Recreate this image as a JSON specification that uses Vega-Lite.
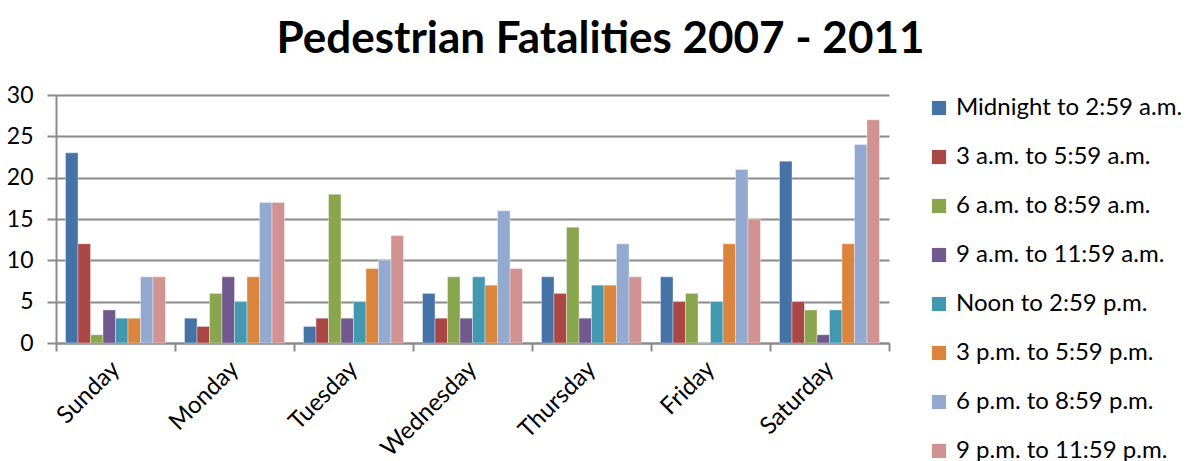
{
  "$schema": "https://vega.github.io/schema/vega-lite/v6.json",
  "autosize": "none",
  "width": 833,
  "height": 248,
  "padding": {"left": 56, "top": 95, "right": 311, "bottom": 118},
  "background": "white",
  "title": {
    "text": "Pedestrian Fatalities 2007 - 2011",
    "font": "Lato",
    "fontSize": 44,
    "fontWeight": "bold",
    "color": "black",
    "anchor": "middle",
    "dx": 128,
    "offset": 22
  },
  "data": {
    "values": [
      {"day": "Sunday", "slot": "Midnight to 2:59 a.m.", "count": 23},
      {"day": "Sunday", "slot": "3 a.m. to 5:59 a.m.", "count": 12},
      {"day": "Sunday", "slot": "6 a.m. to 8:59 a.m.", "count": 1},
      {"day": "Sunday", "slot": "9 a.m. to 11:59 a.m.", "count": 4},
      {"day": "Sunday", "slot": "Noon to 2:59 p.m.", "count": 3},
      {"day": "Sunday", "slot": "3 p.m. to 5:59 p.m.", "count": 3},
      {"day": "Sunday", "slot": "6 p.m. to 8:59 p.m.", "count": 8},
      {"day": "Sunday", "slot": "9 p.m. to 11:59 p.m.", "count": 8},
      {"day": "Monday", "slot": "Midnight to 2:59 a.m.", "count": 3},
      {"day": "Monday", "slot": "3 a.m. to 5:59 a.m.", "count": 2},
      {"day": "Monday", "slot": "6 a.m. to 8:59 a.m.", "count": 6},
      {"day": "Monday", "slot": "9 a.m. to 11:59 a.m.", "count": 8},
      {"day": "Monday", "slot": "Noon to 2:59 p.m.", "count": 5},
      {"day": "Monday", "slot": "3 p.m. to 5:59 p.m.", "count": 8},
      {"day": "Monday", "slot": "6 p.m. to 8:59 p.m.", "count": 17},
      {"day": "Monday", "slot": "9 p.m. to 11:59 p.m.", "count": 17},
      {"day": "Tuesday", "slot": "Midnight to 2:59 a.m.", "count": 2},
      {"day": "Tuesday", "slot": "3 a.m. to 5:59 a.m.", "count": 3},
      {"day": "Tuesday", "slot": "6 a.m. to 8:59 a.m.", "count": 18},
      {"day": "Tuesday", "slot": "9 a.m. to 11:59 a.m.", "count": 3},
      {"day": "Tuesday", "slot": "Noon to 2:59 p.m.", "count": 5},
      {"day": "Tuesday", "slot": "3 p.m. to 5:59 p.m.", "count": 9},
      {"day": "Tuesday", "slot": "6 p.m. to 8:59 p.m.", "count": 10},
      {"day": "Tuesday", "slot": "9 p.m. to 11:59 p.m.", "count": 13},
      {"day": "Wednesday", "slot": "Midnight to 2:59 a.m.", "count": 6},
      {"day": "Wednesday", "slot": "3 a.m. to 5:59 a.m.", "count": 3},
      {"day": "Wednesday", "slot": "6 a.m. to 8:59 a.m.", "count": 8},
      {"day": "Wednesday", "slot": "9 a.m. to 11:59 a.m.", "count": 3},
      {"day": "Wednesday", "slot": "Noon to 2:59 p.m.", "count": 8},
      {"day": "Wednesday", "slot": "3 p.m. to 5:59 p.m.", "count": 7},
      {"day": "Wednesday", "slot": "6 p.m. to 8:59 p.m.", "count": 16},
      {"day": "Wednesday", "slot": "9 p.m. to 11:59 p.m.", "count": 9},
      {"day": "Thursday", "slot": "Midnight to 2:59 a.m.", "count": 8},
      {"day": "Thursday", "slot": "3 a.m. to 5:59 a.m.", "count": 6},
      {"day": "Thursday", "slot": "6 a.m. to 8:59 a.m.", "count": 14},
      {"day": "Thursday", "slot": "9 a.m. to 11:59 a.m.", "count": 3},
      {"day": "Thursday", "slot": "Noon to 2:59 p.m.", "count": 7},
      {"day": "Thursday", "slot": "3 p.m. to 5:59 p.m.", "count": 7},
      {"day": "Thursday", "slot": "6 p.m. to 8:59 p.m.", "count": 12},
      {"day": "Thursday", "slot": "9 p.m. to 11:59 p.m.", "count": 8},
      {"day": "Friday", "slot": "Midnight to 2:59 a.m.", "count": 8},
      {"day": "Friday", "slot": "3 a.m. to 5:59 a.m.", "count": 5},
      {"day": "Friday", "slot": "6 a.m. to 8:59 a.m.", "count": 6},
      {"day": "Friday", "slot": "9 a.m. to 11:59 a.m.", "count": 0},
      {"day": "Friday", "slot": "Noon to 2:59 p.m.", "count": 5},
      {"day": "Friday", "slot": "3 p.m. to 5:59 p.m.", "count": 12},
      {"day": "Friday", "slot": "6 p.m. to 8:59 p.m.", "count": 21},
      {"day": "Friday", "slot": "9 p.m. to 11:59 p.m.", "count": 15},
      {"day": "Saturday", "slot": "Midnight to 2:59 a.m.", "count": 22},
      {"day": "Saturday", "slot": "3 a.m. to 5:59 a.m.", "count": 5},
      {"day": "Saturday", "slot": "6 a.m. to 8:59 a.m.", "count": 4},
      {"day": "Saturday", "slot": "9 a.m. to 11:59 a.m.", "count": 1},
      {"day": "Saturday", "slot": "Noon to 2:59 p.m.", "count": 4},
      {"day": "Saturday", "slot": "3 p.m. to 5:59 p.m.", "count": 12},
      {"day": "Saturday", "slot": "6 p.m. to 8:59 p.m.", "count": 24},
      {"day": "Saturday", "slot": "9 p.m. to 11:59 p.m.", "count": 27}
    ]
  },
  "mark": {"type": "bar", "stroke": "white", "strokeWidth": 0.6, "strokeOpacity": 0.6},
  "encoding": {
    "x": {
      "field": "day",
      "type": "nominal",
      "sort": ["Sunday", "Monday", "Tuesday", "Wednesday", "Thursday", "Friday", "Saturday"],
      "scale": {"paddingInner": 0, "paddingOuter": 0},
      "axis": {
        "title": null,
        "labelAngle": -45,
        "labelAlign": "right",
        "labelBaseline": "middle",
        "labelFont": "Lato",
        "labelFontSize": 24,
        "labelColor": "black",
        "labelPadding": 14,
        "tickBand": "extent",
        "tickSize": 8,
        "tickWidth": 2,
        "tickColor": "#8a8a8a",
        "domainColor": "#8a8a8a",
        "domainWidth": 2,
        "grid": false
      }
    },
    "xOffset": {
      "field": "slot",
      "type": "nominal",
      "sort": ["Midnight to 2:59 a.m.", "3 a.m. to 5:59 a.m.", "6 a.m. to 8:59 a.m.", "9 a.m. to 11:59 a.m.", "Noon to 2:59 p.m.", "3 p.m. to 5:59 p.m.", "6 p.m. to 8:59 p.m.", "9 p.m. to 11:59 p.m."],
      "scale": {"paddingInner": 0, "paddingOuter": 0.76}
    },
    "y": {
      "field": "count",
      "type": "quantitative",
      "scale": {"domain": [0, 30]},
      "axis": {
        "title": null,
        "values": [0, 5, 10, 15, 20, 25, 30],
        "labelFont": "Lato",
        "labelFontSize": 23,
        "labelColor": "black",
        "labelPadding": 14,
        "tickSize": 9,
        "tickWidth": 2,
        "tickColor": "#8a8a8a",
        "domainColor": "#8a8a8a",
        "domainWidth": 2,
        "gridColor": "#8a8a8a",
        "gridWidth": 2
      }
    },
    "color": {
      "field": "slot",
      "type": "nominal",
      "sort": ["Midnight to 2:59 a.m.", "3 a.m. to 5:59 a.m.", "6 a.m. to 8:59 a.m.", "9 a.m. to 11:59 a.m.", "Noon to 2:59 p.m.", "3 p.m. to 5:59 p.m.", "6 p.m. to 8:59 p.m.", "9 p.m. to 11:59 p.m."],
      "scale": {"range": ["#4572A7", "#AA4643", "#89A54E", "#71588F", "#4198AF", "#DB843D", "#93A9CF", "#D19392"]},
      "legend": {
        "title": null,
        "orient": "none",
        "legendX": 871,
        "legendY": 1,
        "symbolType": "square",
        "symbolSize": 200,
        "symbolStrokeWidth": 0,
        "labelFont": "Lato",
        "labelFontSize": 24,
        "labelColor": "black",
        "labelOffset": 5,
        "labelLimit": 400,
        "rowPadding": 25
      }
    }
  },
  "config": {"view": {"stroke": null}}
}
